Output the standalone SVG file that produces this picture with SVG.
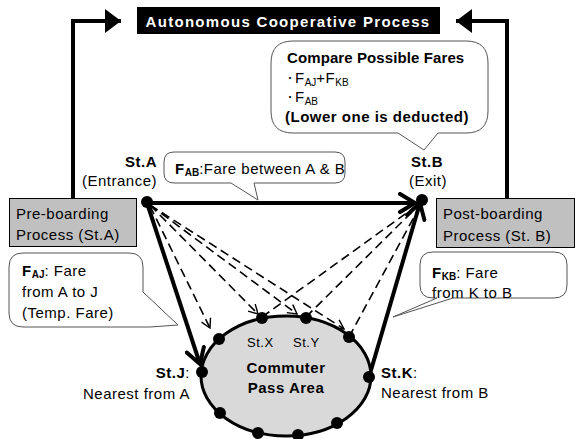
<svg xmlns="http://www.w3.org/2000/svg" width="575" height="439" viewBox="0 0 575 439">
<defs>
<style>
text{font-family:"Liberation Sans",Arial,"Noto Sans CJK JP",sans-serif;font-size:15px;fill:#000;letter-spacing:0.5px}
.b{font-weight:bold}
.sub{font-size:10px;letter-spacing:0}
.bul{font-size:10px;letter-spacing:0}
.box{fill:#c0c0c0;stroke:#000;stroke-width:1}
.call{fill:#fff;stroke:#555;stroke-width:1}
.thick{stroke:#000;stroke-width:4;fill:none}
.dash{stroke:#000;stroke-width:1.6;fill:none;stroke-dasharray:9 5}
.dot{fill:#000}
</style>
<marker id="chev" markerUnits="userSpaceOnUse" viewBox="-18 -11 22 22" markerWidth="22" markerHeight="22" refX="0" refY="0" orient="auto">
<path d="M-15,-9 L0,0 L-15,9" fill="none" stroke="#000" stroke-width="4" stroke-linecap="round"/>
</marker>
<marker id="chevs" markerUnits="userSpaceOnUse" viewBox="-12 -7 14 14" markerWidth="14" markerHeight="14" refX="0" refY="0" orient="auto">
<path d="M-9,-5 L0,0 L-9,5" fill="none" stroke="#000" stroke-width="1.4"/>
</marker>
<marker id="tri" markerUnits="userSpaceOnUse" viewBox="-16 -12 17 24" markerWidth="17" markerHeight="24" refX="0" refY="0" orient="auto">
<path d="M-16,-12 L0,0 L-16,12 Z" fill="#000"/>
</marker>
</defs>

<g id="connectors">
<polyline class="thick" points="73,198 73,21 121,21" marker-end="url(#tri)"/>
<polyline class="thick" points="507,198 507,21 456,21" marker-end="url(#tri)"/>
<line class="thick" x1="147" y1="203" x2="415" y2="203" marker-end="url(#chev)"/>
<line class="thick" x1="147" y1="203" x2="200" y2="364" marker-end="url(#chev)"/>
<line class="thick" x1="369" y1="377" x2="420" y2="203" marker-end="url(#chev)"/>
<line class="dash" x1="150" y1="206" x2="210" y2="328" marker-end="url(#chevs)"/>
<line class="dash" x1="150" y1="205" x2="258" y2="314" marker-end="url(#chevs)"/>
<line class="dash" x1="150" y1="205" x2="297" y2="314" marker-end="url(#chevs)"/>
<line class="dash" x1="150" y1="205" x2="344" y2="329" marker-end="url(#chevs)"/>
<line class="dash" x1="262" y1="317" x2="419" y2="204"/>
<line class="dash" x1="306" y1="317" x2="419" y2="205"/>
<line class="dash" x1="349" y1="337" x2="420" y2="206"/>
</g>

<g id="title">
<rect x="137" y="7" width="303" height="27" fill="#000"/>
<text x="288" y="27" text-anchor="middle" class="b" style="fill:#fff;letter-spacing:1.3px">Autonomous Cooperative Process</text>
</g>

<g id="compare">
<path class="call" d="M293,41 H466 Q488,41 488,63 V111 Q488,133 466,133 H438 L424,150 L398,133 H293 Q271,133 271,111 V63 Q271,41 293,41 Z"/>
<text x="287" y="63" class="b" style="letter-spacing:0.1px">Compare Possible Fares</text>
<text x="285" y="82" class="bul">・</text>
<text x="295" y="83">F<tspan class="sub" dy="3">AJ</tspan><tspan dy="-3">+F</tspan><tspan class="sub" dy="3">KB</tspan></text>
<text x="285" y="101" class="bul">・</text>
<text x="295" y="102">F<tspan class="sub" dy="3">AB</tspan></text>
<text x="285" y="122" class="b">(Lower one is deducted)</text>
</g>

<g id="fab">
<path class="call" d="M174,152 H335 Q345,152 345,162 V173 Q345,183 335,183 H254 L258,200 L231,183 H174 Q164,183 164,173 V162 Q164,152 174,152 Z"/>
<text x="175" y="174"><tspan class="b">F</tspan><tspan class="sub b" dy="2">AB</tspan><tspan dy="-2">:Fare between A &amp; B</tspan></text>
</g>

<g id="stA">
<text x="157" y="167" text-anchor="end" class="b">St.A</text>
<text x="157" y="186" text-anchor="end">(Entrance)</text>
<circle class="dot" cx="147" cy="202" r="6"/>
</g>

<g id="stB">
<text x="427" y="167" text-anchor="middle" class="b">St.B</text>
<text x="428" y="186" text-anchor="middle">(Exit)</text>
<circle class="dot" cx="422" cy="200" r="6"/>
</g>

<g id="pre">
<rect class="box" x="9.5" y="198.5" width="127" height="48"/>
<text x="16" y="219">Pre-boarding</text>
<text x="16" y="240">Process (St.A)</text>
</g>

<g id="post">
<rect class="box" x="436.5" y="198.5" width="138" height="49"/>
<text x="443" y="219">Post-boarding</text>
<text x="443" y="241">Process (St. B)</text>
</g>

<g id="faj">
<path class="call" d="M23,253 H129 Q143,253 143,267 V292 L178,325 L150,327 H23 Q9,327 9,313 V267 Q9,253 23,253 Z"/>
<text x="22" y="276"><tspan class="b">F</tspan><tspan class="sub b" dy="2">AJ</tspan><tspan dy="-2">: Fare</tspan></text>
<text x="22" y="297">from A to J</text>
<text x="22" y="318">(Temp. Fare)</text>
</g>

<g id="fkb">
<path class="call" d="M433,252 H554 Q567,252 567,265 V285 Q567,298 554,298 H453 L393,317 L437,298 H433 Q420,298 420,285 V265 Q420,252 433,252 Z"/>
<text x="432" y="278"><tspan class="b">F</tspan><tspan class="sub b" dy="2">KB</tspan><tspan dy="-2">: Fare</tspan></text>
<text x="432" y="298">from K to B</text>
</g>

<g id="area">
<ellipse cx="286" cy="376" rx="85" ry="60" fill="#d9d9d9" stroke="#000" stroke-width="3"/>
<text x="247" y="347" style="font-size:13px">St.X</text>
<text x="293" y="347" style="font-size:13px">St.Y</text>
<text x="286" y="373" text-anchor="middle" class="b">Commuter</text>
<text x="286" y="393" text-anchor="middle" class="b">Pass Area</text>
<circle class="dot" cx="262" cy="318" r="6"/>
<circle class="dot" cx="306" cy="318" r="6"/>
<circle class="dot" cx="219" cy="339" r="6"/>
<circle class="dot" cx="349" cy="337" r="6"/>
<circle class="dot" cx="220" cy="413" r="6"/>
<circle class="dot" cx="258" cy="433" r="6"/>
<circle class="dot" cx="298" cy="435" r="6"/>
<circle class="dot" cx="337" cy="423" r="6"/>
</g>

<g id="stJ">
<text x="190" y="378" text-anchor="end"><tspan class="b">St.J</tspan>:</text>
<text x="190" y="399" text-anchor="end">Nearest from A</text>
<circle class="dot" cx="202" cy="372" r="6"/>
</g>

<g id="stK">
<text x="381" y="378"><tspan class="b">St.K</tspan>:</text>
<text x="381" y="398">Nearest from B</text>
<circle class="dot" cx="369" cy="377" r="6"/>
</g>
</svg>
